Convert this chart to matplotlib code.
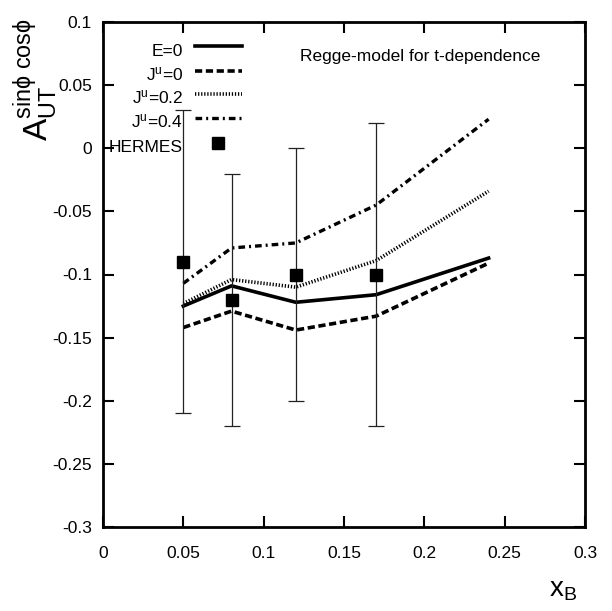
import matplotlib
matplotlib.use("Agg")
import matplotlib.pyplot as plt
from matplotlib.lines import Line2D

plt.rcParams['font.family'] = ['Liberation Sans', 'DejaVu Sans']
plt.rcParams['mathtext.fontset'] = 'custom'
plt.rcParams['mathtext.rm'] = 'Liberation Sans'
plt.rcParams['mathtext.it'] = 'Liberation Sans'

xB = [0.05, 0.08, 0.12, 0.17, 0.24]
E0 = [-0.125, -0.109, -0.122, -0.116, -0.087]
Ju0 = [-0.142, -0.129, -0.144, -0.133, -0.091]
Ju02 = [-0.123, -0.104, -0.110, -0.089, -0.034]
Ju04 = [-0.107, -0.079, -0.075, -0.045, 0.023]

hx = [0.05, 0.08, 0.12, 0.17]
hy = [-0.09, -0.12, -0.10, -0.10]
herr = [0.12, 0.10, 0.10, 0.12]

xticks = [0, 0.05, 0.1, 0.15, 0.2, 0.25, 0.3]
xtlabels = ['0', '0.05', '0.1', '0.15', '0.2', '0.25', '0.3']
yticks = [0.1, 0.05, 0, -0.05, -0.1, -0.15, -0.2, -0.25, -0.3]
ytlabels = ['0.1', '0.05', '0', '-0.05', '-0.1', '-0.15', '-0.2', '-0.25', '-0.3']

series_labels = ['E=0', r'J$^{\rm u}$=0', r'J$^{\rm u}$=0.2', r'J$^{\rm u}$=0.4']
styles = [
    dict(lw=2.6, ls='-'),
    dict(lw=2.6, ls=(0, (2.0, 1.0))),
    dict(lw=2.6, ls=(0, (0.35, 0.5))),
    dict(lw=2.4, ls=(0, (2.0, 1.2, 0.6, 1.2))),
]

W, H = 612, 611
fig = plt.figure(figsize=(W / 100, H / 100), dpi=100)
ax = fig.add_axes([103 / W, 1 - 527 / H, 482 / W, 505 / H])

for ys, st in zip([E0, Ju0, Ju02, Ju04], styles):
    ax.plot(xB, ys, color='black', **st)
ax.errorbar(hx, hy, yerr=herr, fmt='s', color='black', ms=8, ecolor='#222222',
            elinewidth=0.9, capsize=6, capthick=0.9)

ax.set_xlim(0, 0.3)
ax.set_ylim(-0.3, 0.1)
ax.set_xticks(xticks)
ax.set_xticklabels(xtlabels)
ax.set_yticks(yticks)
ax.set_yticklabels(ytlabels)
ax.tick_params(direction='in', length=8, width=1.5, labelsize=12.5, top=True, right=True)
ax.tick_params(axis='x', pad=14)
ax.tick_params(axis='y', pad=8)
for s in ax.spines.values():
    s.set_linewidth(2)

# manual gnuplot-style key
rows = [46, 71, 94, 118]
for y, lab, st in zip(rows, series_labels, styles):
    fig.text(183 / W, 1 - (y + 9.5) / H, lab, fontsize=12.5, ha='right', va='baseline')
    fig.add_artist(Line2D([195 / W, 242 / W], [1 - y / H, 1 - y / H],
                          transform=fig.transFigure, color='black', **st))
fig.text(183 / W, 1 - (143 + 9.5) / H, 'HERMES', fontsize=12.5, ha='right', va='baseline')
fig.add_artist(Line2D([218 / W], [1 - 143 / H], transform=fig.transFigure,
                      color='black', marker='s', ms=8, ls='none'))

ax.text(0.1224, 0.073, 'Regge-model for t-dependence', fontsize=12.5, ha='left', va='center')

fig.text(36 / W, 1 - 80 / H, r'A$_{\rm UT}^{\rm sin\phi\ cos\phi}$', rotation=90, fontsize=24,
         ha='center', va='center')
fig.text(563 / W, 1 - 590 / H, r'x$_{\rm B}$', fontsize=20, ha='center', va='center')

fig.savefig('out.png', dpi=100)
